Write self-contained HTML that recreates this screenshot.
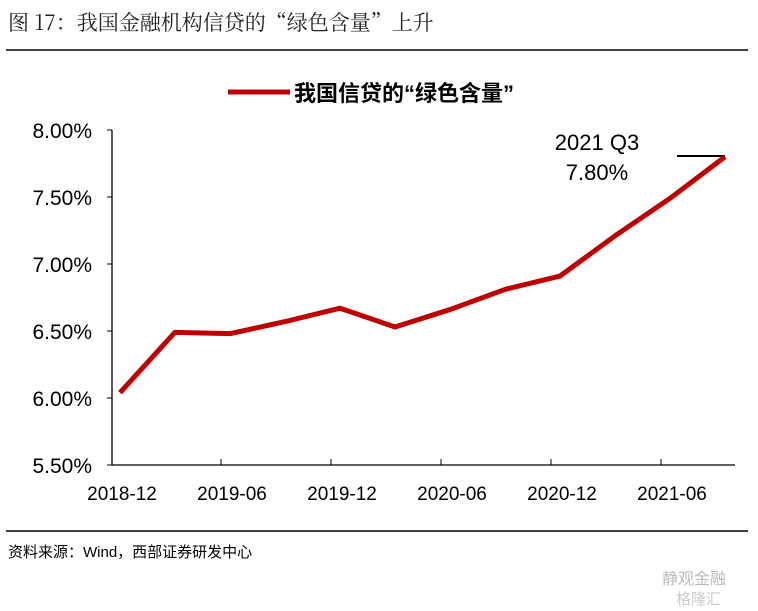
<!DOCTYPE html>
<html><head><meta charset="utf-8"><style>
body{margin:0;background:#fff;width:758px;height:611px;overflow:hidden;font-family:"Liberation Sans","Noto Sans CJK SC",sans-serif}
</style></head><body>
<svg id="c" width="758" height="611" style="position:absolute;left:0;top:0">
<text x="8" y="30" font-size="21" fill="#222" font-family="'Noto Serif CJK SC','Liberation Serif',serif">图 17：我国金融机构信贷的“绿色含量”上升</text>
<line x1="6" y1="50" x2="748" y2="50" stroke="#000" stroke-width="1.5"/>
<line x1="6" y1="531" x2="748" y2="531" stroke="#000" stroke-width="1.5"/>
<line x1="228" y1="92" x2="290" y2="92" stroke="#C00000" stroke-width="5"/>
<text x="294" y="101" font-size="22" font-weight="bold" fill="#000">我国信贷的“绿色含量”</text>
<text x="597" y="150" font-size="22" text-anchor="middle">2021 Q3</text>
<text x="597" y="180" font-size="22" text-anchor="middle">7.80%</text>
<line x1="677" y1="156" x2="725" y2="156" stroke="#000" stroke-width="2"/>
<text x="8" y="557" font-size="15" fill="#000">资料来源：Wind，西部证券研发中心</text>
<text x="662" y="584" font-size="16" fill="#bbb">静观金融</text>
<text x="676" y="604" font-size="15" fill="#ccc">格隆汇</text>
<g id="plot"></g>
</svg>
<script>
const categories=["2018-12","2019-03","2019-06","2019-09","2019-12","2020-03","2020-06","2020-09","2020-12","2021-03","2021-06","2021-09"];
const values=[6.04,6.49,6.48,6.57,6.67,6.53,6.66,6.81,6.91,7.21,7.49,7.80];
const yTicks=[5.5,6.0,6.5,7.0,7.5,8.0];
const xTickLabels=["2018-12","2019-06","2019-12","2020-06","2020-12","2021-06"];
const NS="http://www.w3.org/2000/svg";
const g=document.getElementById('plot');
const x0=112,x1=735,yTop=130,yBot=465;
const xs=i=>120+i*((725-120)/(categories.length-1));
const ys=v=>yBot-(v-5.5)/(8-5.5)*(yBot-yTop);
function mk(t,a){const e=document.createElementNS(NS,t);for(const k in a)e.setAttribute(k,a[k]);g.appendChild(e);return e;}
let e=mk('line',{x1:x0,y1:yTop,x2:x0,y2:yBot,stroke:'#000','stroke-width':1.3});


e=mk('line',{x1:x0,y1:yBot,x2:x1,y2:yBot,stroke:'#000','stroke-width':1.3});


yTicks.forEach(v=>{
 const t=mk('text',{x:92,y:ys(v)+8,'font-size':21,'text-anchor':'end'});
 t.textContent=v.toFixed(2)+'%';
 
 
 const l=mk('line',{x1:x0-5,y1:ys(v),x2:x0,y2:ys(v),stroke:'#000'});
 
 
});
xTickLabels.forEach((s,k)=>{
 const i=k*2;
 const xt=xs(i);
 if(k>0){const l=mk('line',{x1:xt-9,y1:yBot-6,x2:xt-9,y2:yBot,stroke:'#000'});
 
 }
 const t=mk('text',{x:xt+2,y:500,'font-size':19,'text-anchor':'middle'});
 t.textContent=s;
 
 
});
const p=mk('polyline',{points:values.map((v,i)=>xs(i)+','+ys(v)).join(' '),fill:'none',stroke:'#C00000','stroke-width':5,'stroke-linejoin':'round'});


</script>
</body></html>
